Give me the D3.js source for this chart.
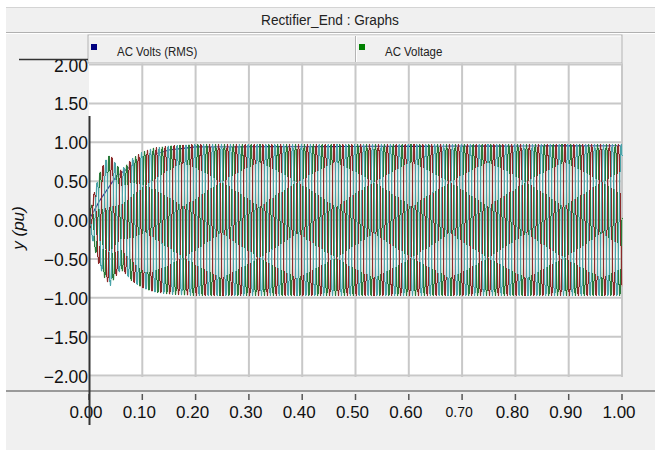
<!DOCTYPE html>
<html>
<head>
<meta charset="utf-8">
<script src="https://cdn.jsdelivr.net/npm/d3@7"></script>
<style>
body { margin: 0; background: #fff; }
svg { display: block; }
.num { font-family: "Liberation Sans", Arial, sans-serif; fill: #111; }
.narrow { font-family: "Liberation Sans Narrow", "Arial Narrow", "Liberation Sans", sans-serif; fill: #222; }
</style>
</head>
<body>
<svg id="chart" width="655" height="450"></svg>
<script>
// Textos
const titulo = "Rectifier_End  : Graphs";
const nombresLeyenda = ["AC  Volts  (RMS)", "AC  Voltage"];
const coloresLeyenda = ["#000080", "#008000"];

// Ejes
const xTicks = [0, 0.1, 0.2, 0.3, 0.4, 0.5, 0.6, 0.7, 0.8, 0.9, 1.0];
const yTicks = [2, 1.5, 1, 0.5, 0, -0.5, -1, -1.5, -2];

// Envolvente de pico de la tensión AC
const envT    = [0, 0.005, 0.01, 0.02, 0.03, 0.04, 0.05, 0.06, 0.07, 0.08, 0.10, 0.12, 0.15, 0.20, 1.00];
const envPico = [0, 0.20, 0.35, 0.60, 0.75, 0.84, 0.72, 0.64, 0.70, 0.78, 0.87, 0.92, 0.95, 0.97, 0.97];

// Tensión RMS (queda casi oculta bajo las ondas)
const rmsT   = [0, 0.02, 0.05, 0.10, 0.15, 0.20, 1.00];
const rmsVal = [0, 0.25, 0.55, 0.80, 0.90, 0.94, 0.955];

// Señal trifásica
const frecuencia = 60;          // Hz
const pasoGrafico = 1 / 12000;  // s
const desfases = [0, -120, 120];
const coloresFase = ["#2a7a3a", "#8c2a2a", "#4aa3a8"];
const coloresSuaves = ["#9cc8a2", "#d2a4a4", "#a3d3d6"];

const svg = d3.select("#chart");
const W = 655, H = 450;

const x = d3.scaleLinear().domain([0, 1]).range([89, 622]);
const y = d3.scaleLinear().domain([-2, 2]).range([375.5, 64.5]);
const env = d3.scaleLinear().domain(envT).range(envPico).clamp(true);
const rms = d3.scaleLinear().domain(rmsT).range(rmsVal).clamp(true);

// Fondo
svg.append("rect").attr("x", 6).attr("y", 7).attr("width", W - 6).attr("height", H - 7).attr("fill", "#f0f0f0");
svg.append("line").attr("x1", 6).attr("x2", W).attr("y1", 7.5).attr("y2", 7.5).attr("stroke", "#d4d4d4");

// Barra de título
svg.append("line").attr("x1", 6).attr("x2", W).attr("y1", 32.5).attr("y2", 32.5).attr("stroke", "#b0b0b0");
svg.append("line").attr("x1", 6).attr("x2", W).attr("y1", 33.5).attr("y2", 33.5).attr("stroke", "#fff");
svg.append("text").attr("class", "narrow")
    .attr("transform", "translate(330,20) scale(0.88,1)")
    .attr("text-anchor", "middle").attr("dominant-baseline", "central")
    .style("font-size", "15.5px")
    .text(titulo);

// Barra de leyenda
svg.append("rect").attr("x", 88).attr("y", 35).attr("width", 534).attr("height", 28)
    .attr("fill", "#f0f0f0").attr("stroke", "#b4b4b4");
svg.append("line").attr("x1", 89).attr("x2", 621).attr("y1", 36).attr("y2", 36).attr("stroke", "#fff");
svg.append("line").attr("x1", 355.5).attr("x2", 355.5).attr("y1", 36).attr("y2", 62).attr("stroke", "#b4b4b4");
svg.append("line").attr("x1", 356.5).attr("x2", 356.5).attr("y1", 36).attr("y2", 62).attr("stroke", "#fff");

const posLeyenda = [91, 359];
nombresLeyenda.forEach((n, i) => {
    svg.append("rect").attr("x", posLeyenda[i]).attr("y", 44).attr("width", 6).attr("height", 6)
        .attr("fill", coloresLeyenda[i]);
    svg.append("text").attr("class", "narrow")
        .attr("transform", `translate(${posLeyenda[i] + 26},52) scale(0.85,1)`)
        .attr("dominant-baseline", "central")
        .style("font-size", "13.5px")
        .text(n);
});

// Área de gráfico
svg.append("rect").attr("x", 89).attr("y", 63.5).attr("width", 533).attr("height", 313).attr("fill", "#fff");

// Rejilla
svg.append("g")
    .selectAll("line").data(xTicks.slice(1)).join("line")
    .attr("x1", d => x(d)).attr("x2", d => x(d))
    .attr("y1", 63.5).attr("y2", 377)
    .attr("stroke", "#c8c8c8").attr("stroke-width", 2);
svg.append("g")
    .selectAll("line").data(yTicks).join("line")
    .attr("x1", 89).attr("x2", 623)
    .attr("y1", d => y(d)).attr("y2", d => y(d))
    .attr("stroke", "#c8c8c8").attr("stroke-width", 2);

// Recorte del área
svg.append("clipPath").attr("id", "recorte")
    .append("rect").attr("x", 89).attr("y", 63.5).attr("width", 534).attr("height", 313);
const g = svg.append("g").attr("clip-path", "url(#recorte)");

// Curva RMS
const lineaRms = d3.line().x(d => x(d)).y(d => y(rms(d)));
g.append("path")
    .datum(d3.range(0, 1.0001, 0.002))
    .attr("fill", "none").attr("stroke", "#000080").attr("stroke-width", 1.2)
    .attr("d", lineaRms);

// Ondas trifásicas: capa suave (antialias) y capa nítida encima
const muestras = d3.range(0, 1.0001, pasoGrafico);
const lineas = desfases.map(fi => d3.line()
    .x(t => x(t))
    .y(t => y(env(t) * Math.sin(2 * Math.PI * frecuencia * t + fi * Math.PI / 180))));

lineas.forEach((linea, k) => {
    g.append("path")
        .datum(muestras)
        .attr("fill", "none")
        .attr("stroke", coloresSuaves[k])
        .attr("stroke-width", 1.4)
        .attr("d", linea);
});
lineas.forEach((linea, k) => {
    g.append("path")
        .datum(muestras)
        .attr("fill", "none")
        .attr("stroke", coloresFase[k])
        .attr("stroke-width", 1)
        .attr("shape-rendering", "crispEdges")
        .attr("d", linea);
});

// Separador del eje x
svg.append("line").attr("x1", 6).attr("x2", W).attr("y1", 391).attr("y2", 391).attr("stroke", "#9a9a9a").attr("stroke-width", 2);

// Marcas y etiquetas eje x
svg.append("g")
    .selectAll("line").data(xTicks).join("line")
    .attr("x1", d => x(d)).attr("x2", d => x(d))
    .attr("y1", 394).attr("y2", 400)
    .attr("stroke", "#555").attr("stroke-width", 1.5);
svg.append("g")
    .selectAll("text").data(xTicks).join("text")
    .attr("class", "num")
    .attr("x", d => x(d) - 3).attr("y", 412)
    .attr("text-anchor", "middle").attr("dominant-baseline", "central")
    .style("font-size", d => d3.format(".2f")(d) === "0.70" ? "14px" : "17px")
    .text(d => d3.format(".2f")(d));

// Etiquetas eje y
svg.append("g")
    .selectAll("text").data(yTicks).join("text")
    .attr("class", "num")
    .attr("x", 88).attr("y", d => y(d) + 1)
    .attr("text-anchor", "end").attr("dominant-baseline", "central")
    .style("font-size", "17.5px")
    .text(d => d3.format(".2f")(d));

// Líneas oscuras del eje
svg.append("line").attr("x1", 19).attr("x2", 88).attr("y1", 59.5).attr("y2", 59.5).attr("stroke", "#333").attr("stroke-width", 1.5);
svg.append("line").attr("x1", 89.5).attr("x2", 89.5).attr("y1", 116).attr("y2", 425).attr("stroke", "#333").attr("stroke-width", 2);

// Título del eje y
svg.append("text").attr("class", "num")
    .attr("transform", "translate(24,228) rotate(-90)")
    .attr("text-anchor", "middle")
    .style("font-size", "17px").style("font-style", "italic")
    .text("y (pu)");
</script>
</body>
</html>
